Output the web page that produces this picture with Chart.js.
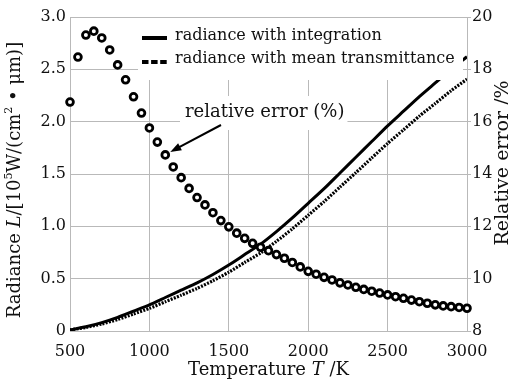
<!DOCTYPE html>
<html>
<head>
<meta charset="utf-8">
<script src="https://cdn.jsdelivr.net/npm/chart.js@4.4.1/dist/chart.umd.min.js"></script>
<style>
  html, body { margin: 0; padding: 0; background: #fff; }
  #wrap { width: 508px; height: 379px; position: relative; }
</style>
</head>
<body>
<div id="wrap"><canvas id="c"></canvas></div>
<script>
// radiance curves, read every 100 K
var lineTemps = [500, 600, 700, 800, 900, 1000, 1100, 1200, 1300, 1400, 1500, 1600, 1700,
  1800, 1900, 2000, 2100, 2200, 2300, 2400, 2500, 2600, 2700, 2800, 2900, 3000];
var radianceIntegration = [0.01, 0.04, 0.08, 0.13, 0.19, 0.25, 0.32, 0.39, 0.46, 0.54, 0.63, 0.73, 0.83,
  0.95, 1.08, 1.22, 1.36, 1.51, 1.66, 1.81, 1.96, 2.10, 2.24, 2.37, 2.50, 2.62];
var radianceMean = [0.01, 0.034, 0.067, 0.11, 0.162, 0.216, 0.279, 0.342, 0.407, 0.48, 0.562, 0.655, 0.746,
  0.857, 0.976, 1.106, 1.236, 1.375, 1.513, 1.653, 1.792, 1.922, 2.053, 2.174, 2.296, 2.406];

// relative error markers, every 50 K
var errorTemps = [500, 550, 600, 650, 700, 750, 800, 850, 900, 950, 1000, 1050, 1100, 1150, 1200,
  1250, 1300, 1350, 1400, 1450, 1500, 1550, 1600, 1650, 1700, 1750, 1800, 1850, 1900, 1950, 2000,
  2050, 2100, 2150, 2200, 2250, 2300, 2350, 2400, 2450, 2500, 2550, 2600, 2650, 2700, 2750, 2800,
  2850, 2900, 2950, 3000];
var relativeError = [16.75, 18.47, 19.31, 19.46, 19.2, 18.74, 18.17, 17.6, 16.95, 16.33, 15.76, 15.22,
  14.73, 14.27, 13.86, 13.45, 13.1, 12.82, 12.52, 12.22, 11.98, 11.74, 11.54, 11.35, 11.2, 11.07,
  10.92, 10.78, 10.62, 10.45, 10.28, 10.17, 10.05, 9.95, 9.84, 9.76, 9.67, 9.59, 9.52, 9.45, 9.38,
  9.31, 9.25, 9.18, 9.12, 9.06, 9.0, 8.96, 8.93, 8.9, 8.87];

var xTicks = [500, 1000, 1500, 2000, 2500, 3000];
var leftTicks = [0, 0.5, 1, 1.5, 2, 2.5, 3];
var rightTicks = [8, 10, 12, 14, 16, 18, 20];
var legendLabels = ['radiance with integration', 'radiance with mean transmittance'];
var noteText = 'relative error (%)';
var noteTemp = 1100;

var SERIF = '"DejaVu Serif", "Liberation Serif", serif';
var INK = '#111';
var GRID = '#b9b9b9';

function pts(xs, ys) {
  return xs.map(function (x, i) { return { x: x, y: ys[i] }; });
}

function setTicks(list) {
  return function (scale) {
    scale.ticks = list.map(function (v) { return { value: v }; });
  };
}

// draw a run of text pieces, some italic / superscript, centred on 0
function drawRich(ctx, parts, size) {
  var total = 0;
  parts.forEach(function (p) {
    ctx.font = (p.it ? 'italic ' : '') + (p.sup ? Math.round(size * 0.62) : size) + 'px ' + SERIF;
    p.w = ctx.measureText(p.t).width;
    total += p.w;
  });
  var x = -total / 2;
  parts.forEach(function (p) {
    ctx.font = (p.it ? 'italic ' : '') + (p.sup ? Math.round(size * 0.62) : size) + 'px ' + SERIF;
    ctx.fillText(p.t, x, p.sup ? -size * 0.35 : 0);
    x += p.w;
  });
}

var decor = {
  id: 'decor',
  afterDatasetsDraw: function (chart) {
    var ctx = chart.ctx, xs = chart.scales.x, y2 = chart.scales.y2;
    ctx.save();
    // legend, sits over the lines
    ctx.fillStyle = '#fff';
    ctx.fillRect(138, 18, 325, 62);
    ctx.strokeStyle = '#000';
    ctx.lineWidth = 4;
    ctx.beginPath(); ctx.moveTo(142, 38); ctx.lineTo(167, 38); ctx.stroke();
    ctx.setLineDash([6.5, 2.6]);
    ctx.beginPath(); ctx.moveTo(142, 62); ctx.lineTo(167, 62); ctx.stroke();
    ctx.setLineDash([]);
    ctx.fillStyle = INK;
    ctx.font = '16px ' + SERIF;
    ctx.textBaseline = 'middle';
    ctx.textAlign = 'left';
    ctx.fillText(legendLabels[0], 175, 36);
    ctx.fillText(legendLabels[1], 175, 59);

    // note with arrow
    var nx = 185, ny = 112;
    ctx.font = '18px ' + SERIF;
    var nw = ctx.measureText(noteText).width;
    ctx.fillStyle = '#fff';
    ctx.fillRect(nx - 5, ny - 16, nw + 8, 34);
    ctx.fillStyle = INK;
    ctx.fillText(noteText, nx, ny);
    var i = errorTemps.indexOf(noteTemp);
    var px = xs.getPixelForValue(noteTemp), py = y2.getPixelForValue(relativeError[i]);
    var tx = px + 5, ty = py - 3, sx = 221, sy = 125;
    var ang = Math.atan2(ty - sy, tx - sx);
    ctx.strokeStyle = '#000';
    ctx.lineWidth = 2;
    ctx.beginPath(); ctx.moveTo(sx, sy); ctx.lineTo(tx - 8 * Math.cos(ang), ty - 8 * Math.sin(ang)); ctx.stroke();
    ctx.fillStyle = '#000';
    ctx.beginPath();
    ctx.moveTo(tx, ty);
    ctx.lineTo(tx - 11 * Math.cos(ang) + 4 * Math.sin(ang), ty - 11 * Math.sin(ang) - 4 * Math.cos(ang));
    ctx.lineTo(tx - 11 * Math.cos(ang) - 4 * Math.sin(ang), ty - 11 * Math.sin(ang) + 4 * Math.cos(ang));
    ctx.closePath();
    ctx.fill();
    ctx.restore();
  },
  afterDraw: function (chart) {
    var ctx = chart.ctx, a = chart.chartArea;
    ctx.save();
    ctx.fillStyle = INK;
    ctx.textAlign = 'left';
    ctx.textBaseline = 'middle';
    // x title
    ctx.save();
    ctx.translate((a.left + a.right) / 2, 370);
    drawRich(ctx, [{ t: 'Temperature ' }, { t: 'T', it: true }, { t: ' /K' }], 18);
    ctx.restore();
    // left title
    ctx.save();
    ctx.translate(15, 180);
    ctx.rotate(-Math.PI / 2);
    drawRich(ctx, [{ t: 'Radiance ' }, { t: 'L', it: true }, { t: '/[10' }, { t: '5', sup: true },
      { t: 'W/(cm' }, { t: '2', sup: true }, { t: ' \u2022 \u03bcm)]' }], 18);
    ctx.restore();
    // right title, cut by the page edge
    ctx.save();
    ctx.translate(503, 163);
    ctx.rotate(-Math.PI / 2);
    drawRich(ctx, [{ t: 'Relative error /%' }], 19);
    ctx.restore();
    ctx.restore();
  }
};

var tickFont = { family: SERIF, size: 16 };

new Chart(document.getElementById('c'), {
  type: 'line',
  data: {
    datasets: [{
      label: 'relative error',
      data: pts(errorTemps, relativeError),
      yAxisID: 'y2',
      showLine: false,
      pointRadius: 3.4,
      pointBorderWidth: 2.8,
      pointBackgroundColor: '#fff',
      pointBorderColor: '#000',
      clip: false
    }, {
      label: legendLabels[0],
      data: pts(lineTemps, radianceIntegration),
      yAxisID: 'y',
      borderColor: '#000',
      borderWidth: 3,
      pointRadius: 0,
      tension: 0.2
    }, {
      label: legendLabels[1],
      data: pts(lineTemps, radianceMean),
      yAxisID: 'y',
      borderColor: '#000',
      borderWidth: 3.2,
      borderDash: [2, 1.3],
      pointRadius: 0,
      tension: 0.2
    }]
  },
  options: {
    responsive: true,
    maintainAspectRatio: false,
    animation: false,
    layout: { padding: { top: 17, left: 0, right: 0, bottom: 0 } },
    plugins: { legend: { display: false }, tooltip: { enabled: false } },
    scales: {
      x: {
        type: 'linear', min: 500, max: 3000,
        afterBuildTicks: setTicks(xTicks),
        afterFit: function (s) { s.height = 48; },
        grid: { color: GRID, drawTicks: false },
        border: { color: GRID },
        ticks: {
          font: tickFont, color: INK, padding: 11, maxRotation: 0,
          callback: function (v) { return String(v); }
        }
      },
      y: {
        position: 'left', min: 0, max: 3,
        afterBuildTicks: setTicks(leftTicks),
        afterFit: function (s) { s.width = 70; },
        grid: { color: GRID, drawTicks: false },
        border: { color: GRID },
        ticks: {
          font: tickFont, color: INK, padding: 4,
          callback: function (v) { return v === 0 ? '0' : v.toFixed(1); }
        }
      },
      y2: {
        position: 'right', min: 8, max: 20,
        afterBuildTicks: setTicks(rightTicks),
        afterFit: function (s) { s.width = 41; },
        grid: { drawOnChartArea: false, color: GRID, tickLength: 4 },
        border: { color: GRID },
        ticks: { font: tickFont, color: INK, padding: 1 }
      }
    }
  },
  plugins: [decor]
});
</script>
</body>
</html>
